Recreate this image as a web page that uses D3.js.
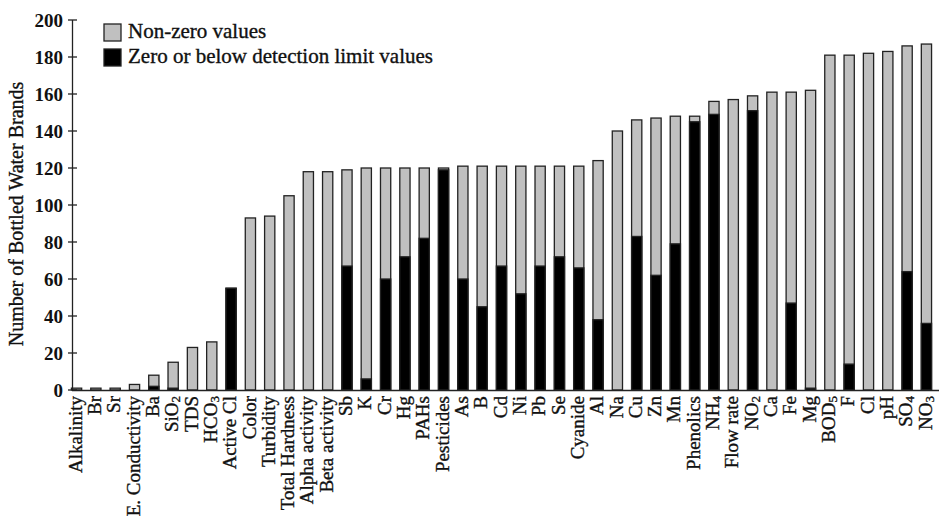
<!DOCTYPE html>
<html>
<head>
<meta charset="utf-8">
<script src="https://cdn.jsdelivr.net/npm/d3@7"></script>
<style>
  body { margin: 0; background: #fff; }
  text { font-family: "Liberation Serif", "Times New Roman", serif; fill: #111; }
  .heavy { stroke: #111; stroke-width: 0.35px; }
</style>
</head>
<body>
<script>
// parameters, in the order they appear along the x axis
var categories = ["Alkalinity", "Br", "Sr", "E. Conductivity", "Ba", "SiO2", "TDS", "HCO3",
    "Active Cl", "Color", "Turbidity", "Total Hardness", "Alpha activity", "Beta activity",
    "Sb", "K", "Cr", "Hg", "PAHs", "Pesticides", "As", "B", "Cd", "Ni", "Pb", "Se", "Cyanide",
    "Al", "Na", "Cu", "Zn", "Mn", "Phenolics", "NH4", "Flow rate", "NO2", "Ca", "Fe", "Mg",
    "BOD5", "F", "Cl", "pH", "SO4", "NO3"];

// total number of brands reporting the parameter (top of each bar)
var totals = [1, 1, 1, 3, 8, 15, 23, 26,
    55, 93, 94, 105, 118, 118,
    119, 120, 120, 120, 120, 120, 121, 121, 121, 121, 121, 121, 121,
    124, 140, 146, 147, 148, 148, 156, 157, 159, 161, 161, 162,
    181, 181, 182, 183, 186, 187];

// of which zero or below detection limit (black part)
var zeroValues = [0, 0, 0, 0, 2, 1, 0, 0,
    55, 0, 0, 0, 0, 0,
    67, 6, 60, 72, 82, 119, 60, 45, 67, 52, 67, 72, 66,
    38, 0, 83, 62, 79, 145, 149, 0, 151, 0, 47, 1,
    0, 14, 0, 0, 64, 36];

var yTicks = [0, 20, 40, 60, 80, 100, 120, 140, 160, 180, 200];

var legendItems = [
    { label: "Non-zero values", colour: "#c0c0c0" },
    { label: "Zero or below detection limit values", colour: "#000" }
];

var data = categories.map(function (c, i) {
    return { cat: c, total: totals[i], zero: zeroValues[i] };
});

var W = 939, H = 523;
var svg = d3.select("body").append("svg")
    .attr("width", W)
    .attr("height", H);

var y = d3.scaleLinear()
    .domain([0, 200])
    .range([390, 20]);

var x = d3.scaleBand()
    .domain(categories)
    .range([67, 936])
    .paddingInner(0.47)
    .paddingOuter(0.23);

// gray part = whole bar, black drawn over it from the bottom
var bars = svg.append("g").attr("class", "bars");

bars.selectAll("rect.total")
    .data(data)
    .enter().append("rect")
    .attr("class", "total")
    .attr("x", d => x(d.cat))
    .attr("y", d => y(d.total))
    .attr("width", x.bandwidth())
    .attr("height", d => y(0) - y(d.total))
    .attr("fill", "#c0c0c0")
    .attr("stroke", "#222")
    .attr("stroke-width", 1.3);

bars.selectAll("rect.zero")
    .data(data.filter(d => d.zero > 0))
    .enter().append("rect")
    .attr("class", "zero")
    .attr("x", d => x(d.cat))
    .attr("y", d => y(d.zero))
    .attr("width", x.bandwidth())
    .attr("height", d => y(0) - y(d.zero))
    .attr("fill", "#000")
    .attr("stroke", "#222")
    .attr("stroke-width", 1.3);

// y axis
var yAxis = svg.append("g").attr("class", "y axis");
yAxis.append("line")
    .attr("x1", 72.5).attr("x2", 72.5)
    .attr("y1", y(200)).attr("y2", y(0))
    .attr("stroke", "#222").attr("stroke-width", 1.3);

yAxis.selectAll("line.tick")
    .data(yTicks)
    .enter().append("line")
    .attr("class", "tick")
    .attr("x1", 68).attr("x2", 77)
    .attr("y1", d => y(d)).attr("y2", d => y(d))
    .attr("stroke", "#222").attr("stroke-width", 1.3);

yAxis.selectAll("text")
    .data(yTicks)
    .enter().append("text")
    .attr("x", 63)
    .attr("y", d => y(d))
    .attr("dy", "0.35em")
    .attr("text-anchor", "end")
    .style("font-size", "19px")
    .style("font-weight", "bold")
    .text(d => d);

// y axis title
svg.append("text")
    .attr("class", "heavy")
    .attr("transform", "translate(23,214) rotate(-90)")
    .attr("text-anchor", "middle")
    .style("font-size", "20px")
    .text("Number of Bottled Water Brands");

// x axis line
svg.append("line")
    .attr("x1", 72).attr("x2", W)
    .attr("y1", y(0) + 0.5).attr("y2", y(0) + 0.5)
    .attr("stroke", "#222").attr("stroke-width", 1.5);

// x labels, digits set as subscripts
var xl = svg.append("g").attr("class", "x labels")
    .selectAll("text")
    .data(categories)
    .enter().append("text")
    .attr("class", "heavy")
    .attr("transform", d => "translate(" + (x(d) + x.bandwidth() / 2) + ",396) rotate(-90)")
    .attr("text-anchor", "end")
    .attr("dy", "0.27em")
    .style("font-size", "19px");

xl.each(function (d) {
    var t = d3.select(this);
    var parts = d.match(/[^0-9]+|[0-9]+/g);
    parts.forEach(function (p) {
        if (/^[0-9]+$/.test(p)) {
            t.append("tspan").attr("dy", "0.15em").style("font-size", "13px").text(p);
        } else {
            t.append("tspan").text(p);
        }
    });
});

// legend
var legend = svg.append("g").attr("class", "legend")
    .selectAll("g")
    .data(legendItems)
    .enter().append("g")
    .attr("transform", (d, i) => "translate(104," + (24 + i * 25) + ")");

legend.append("rect")
    .attr("width", 17).attr("height", 17)
    .attr("fill", d => d.colour)
    .attr("stroke", "#222")
    .attr("stroke-width", 1.3);

legend.append("text")
    .attr("class", "heavy")
    .attr("x", 24)
    .attr("y", 14)
    .style("font-size", "21px")
    .text(d => d.label);
</script>
</body>
</html>
